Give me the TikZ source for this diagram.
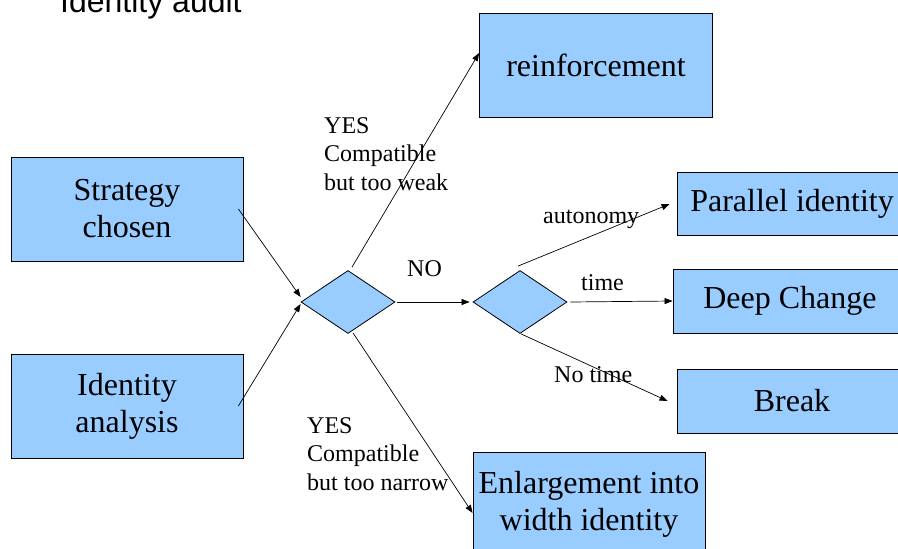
\documentclass[tikz,border=0pt]{standalone}
\usepackage{fontspec}
\setmainfont{Liberation Serif}
\newfontfamily\titlefont{Liberation Sans}
\definecolor{auditblue}{RGB}{153,204,255}
\usetikzlibrary{arrows.meta,shapes.geometric}

\begin{document}
\begin{tikzpicture}[
  x=1pt,y=-1pt,
  every node/.style={inner sep=0pt},
  auditbox/.style={draw,fill=auditblue,line width=0.8pt,align=center,
                   font=\fontsize{32}{37}\selectfont},
  decision/.style={diamond,draw,fill=auditblue,line width=0.8pt,
                   minimum width=94pt,minimum height=63pt},
  branchlabel/.style={align=left,font=\fontsize{24}{28.5}\selectfont},
  flow/.style={-{Triangle[length=8pt,width=6pt]},line width=0.7pt},
]
  \useasboundingbox (0,0) rectangle (898,549);
  \clip (0,0) rectangle (898,549);

  % title
  \node[anchor=base west,font=\titlefont\fontsize{32}{37}\selectfont] (title) at (60,12) {Identity audit};

  % inputs
  \node[auditbox,minimum width=232pt,minimum height=104pt] (strat) at (127,209) {Strategy\\chosen};
  \node[auditbox,minimum width=232pt,minimum height=104pt] (ident) at (127,406) {Identity\\analysis};

  % decisions
  \node[decision] (d1) at (348,302) {};
  \node[decision] (d2) at (520,302) {};

  % outcomes
  \node[auditbox,minimum width=233pt,minimum height=104pt] (reinf) at (596,65) {reinforcement};
  \node[auditbox,minimum width=232pt,minimum height=104pt] (enl) at (589,504) {Enlargement into\\width identity};
  \node[auditbox,minimum width=230pt,minimum height=63pt] (par) at (792,204) {Parallel identity};
  \node[auditbox,minimum width=234pt,minimum height=64pt] (deep) at (790,301) {Deep Change};
  \node[auditbox,minimum width=230pt,minimum height=64pt] (brk) at (792,401) {Break};

  % connectors
  \draw[flow] ([xshift=-5pt]strat.east) -- ([yshift=5pt]d1.west);
  \draw[flow] ([xshift=-5pt]ident.east) -- ([yshift=-2pt]d1.west);
  \draw[flow] ([xshift=4pt,yshift=3pt]d1.north) -- ([yshift=12pt]reinf.west);
  \draw[flow] ([xshift=2pt]d1.east) -- ([xshift=-3pt]d2.west);
  \draw[flow] ([xshift=5pt,yshift=1pt]d1.south) -- ([yshift=-9pt]enl.west);
  \draw[flow] ([xshift=-2pt,yshift=4pt]d2.north) -- ([xshift=-7pt]par.west);
  \draw[flow] ([xshift=3pt]d2.east) -- (deep.west);
  \draw[flow] ([xshift=1pt]d2.south) -- ([xshift=-9pt]brk.west);

  % branch labels
  \node[branchlabel,anchor=north west] (weak) at (324,117) {YES\\Compatible\\but too weak};
  \node[branchlabel,anchor=north west] (narrow) at (307,417) {YES\\Compatible\\but too narrow};
  \node[branchlabel,anchor=base west] (no) at (407,276) {NO};
  \node[branchlabel,anchor=base west] (auto) at (543,223) {autonomy};
  \node[branchlabel,anchor=base west] (time) at (581,290) {time};
  \node[branchlabel,anchor=base west] (notime) at (554,382) {No time};
\end{tikzpicture}
\end{document}
